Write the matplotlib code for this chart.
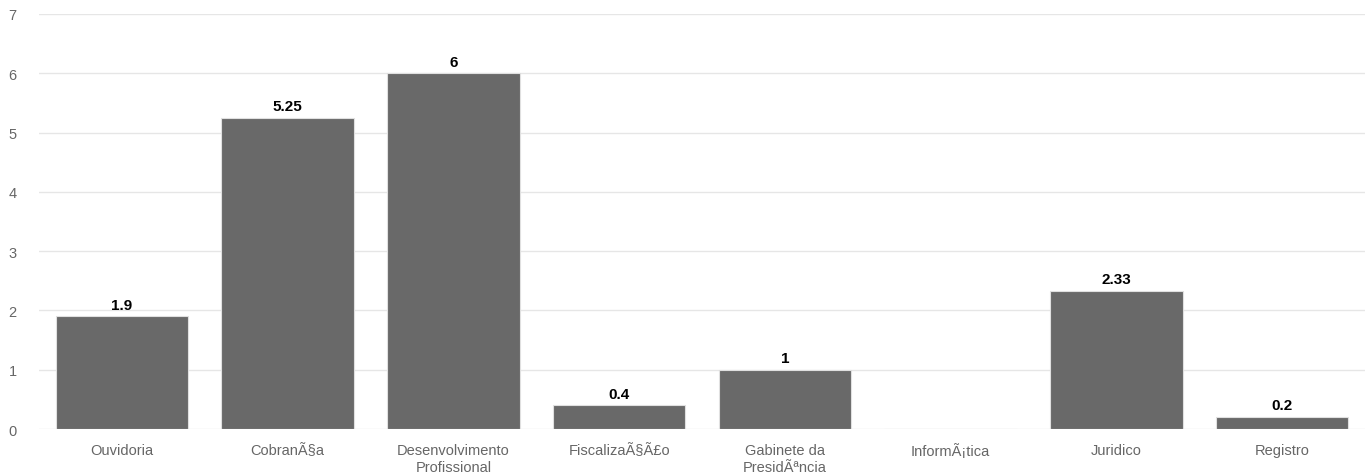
import matplotlib
matplotlib.use("Agg")
import matplotlib.pyplot as plt

categories = ["Ouvidoria", "CobranÃ§a", "Desenvolvimento\nProfissional", "FiscalizaÃ§Ã£o",
              "Gabinete da\nPresidÃªncia", "InformÃ¡tica", "Juridico", "Registro"]
values = [1.9, 5.25, 6, 0.4, 1, 0, 2.33, 0.2]
labels = ["1.9", "5.25", "6", "0.4", "1", "", "2.33", "0.2"]
yticks = [0, 1, 2, 3, 4, 5, 6, 7]

plt.rcParams['font.family'] = ['Liberation Sans', 'DejaVu Sans']

fig = plt.figure(figsize=(13.71, 4.77), dpi=100)
ax = fig.add_axes([0.0284, 0.0985, 0.9672, 0.8701])

x = list(range(len(categories)))
bars = ax.bar(x, values, width=0.8, color="#696969", edgecolor="#e0e0e0", linewidth=0.8, zorder=3)
for xi, v, lab in zip(x, values, labels):
    if lab:
        ax.text(xi, v + 0.08, lab, ha="center", va="bottom", fontsize=11, fontweight="bold", color="#000000", zorder=4)

ax.set_xlim(-0.5, len(categories) - 0.5)
ax.set_ylim(0, 7)
ax.set_yticks(yticks)
ax.set_yticklabels([str(t) for t in yticks])
ax.set_xticks(x)
ax.set_xticklabels(categories, linespacing=1.25)
ax.grid(axis="y", color="#e6e6e6", linewidth=1, zorder=0)
ax.tick_params(axis="both", length=0, labelsize=10.5, labelcolor="#666666")
ax.tick_params(axis="y", pad=16)
ax.tick_params(axis="x", pad=10)
for s in ax.spines.values():
    s.set_visible(False)

fig.savefig("out.png", dpi=100)
